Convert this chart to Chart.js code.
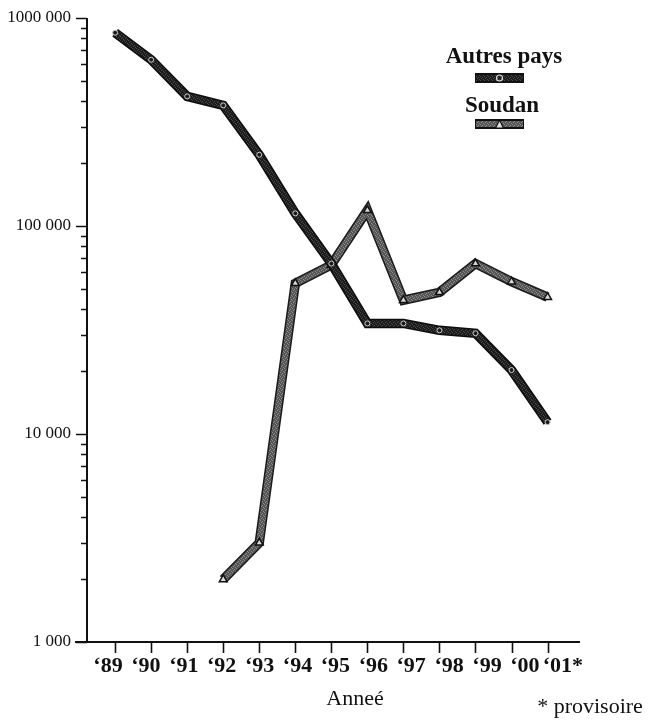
<!DOCTYPE html>
<html>
<head>
<meta charset="utf-8">
<script src="https://cdn.jsdelivr.net/npm/chart.js@4/dist/chart.umd.min.js"></script>
<style>
  html, body { margin: 0; padding: 0; background: #fff; }
  canvas { display: block; }
</style>
</head>
<body>
<canvas id="c" width="663" height="721"></canvas>
<script>
// Years on the horizontal axis (2001 is provisional)
const years = ['‘89', '‘90', '‘91', '‘92', '‘93', '‘94', '‘95', '‘96', '‘97', '‘98', '‘99', '‘00', '‘01*'];
// Counts per year, logarithmic vertical axis
const autresPays = [850000, 630000, 420000, 380000, 220000, 115000, 66000, 34000, 34000, 31500, 30500, 20300, 11400];
const soudan = [null, null, null, 2000, 3000, 53000, 65000, 119000, 44000, 48000, 66000, 54000, 45500];
// Labelled decades on the vertical axis
const yTickLabels = { 1000: '1 000', 10000: '10 000', 100000: '100 000', 1000000: '1000 000' };
const seriesNames = ['Autres pays', 'Soudan'];
const axisTitle = 'Anneé';
const footnote = '* provisoire';

const SERIF = '"Liberation Serif", "Times New Roman", serif';

// Stippled fill used for the thick ribbon-like lines
function stipple(base, dot) {
  const c = document.createElement('canvas');
  c.width = 4; c.height = 4;
  const g = c.getContext('2d');
  g.fillStyle = base; g.fillRect(0, 0, 4, 4);
  g.fillStyle = dot;
  [[0, 0], [2, 1], [1, 2], [3, 3]].forEach(([px, py]) => g.fillRect(px, py, 1, 1));
  return g.createPattern(c, 'repeat');
}
const darkFill = stipple('#1c1c1c', '#4a4a4a');
const greyFill = stipple('#555555', '#8e8e8e');

function points(values) {
  return values.map((v, i) => ({ x: i, y: v })).filter(p => p.y !== null);
}

const common = {
  xAxisID: 'xd', showLine: true, tension: 0,
  borderJoinStyle: 'miter', borderCapStyle: 'butt', fill: false
};

// Frame, ticks, legend and notes drawn on top of the chart
const frame = {
  id: 'frame',
  afterDraw(chart) {
    const { ctx, scales: { xd, y }, chartArea: a } = chart;
    ctx.save();
    ctx.strokeStyle = '#111';
    ctx.lineCap = 'butt';

    ctx.lineWidth = 2;
    ctx.beginPath();
    ctx.moveTo(a.left, a.top);
    ctx.lineTo(a.left, a.bottom + 1);
    ctx.moveTo(a.left - 12, a.bottom);
    ctx.lineTo(a.right, a.bottom);
    ctx.stroke();

    ctx.lineWidth = 1.6;
    ctx.beginPath();
    y.ticks.forEach(t => {
      const py = Math.round(y.getPixelForValue(t.value)) + 0.5;
      const major = yTickLabels[t.value] !== undefined;
      ctx.moveTo(a.left - (major ? 11 : 6), py);
      ctx.lineTo(a.left, py);
    });
    years.forEach((_, i) => {
      const px = Math.round(xd.getPixelForValue(i)) + 0.5;
      ctx.moveTo(px, a.bottom);
      ctx.lineTo(px, a.bottom + 11);
    });
    ctx.stroke();

    // legend
    ctx.fillStyle = '#111';
    ctx.textAlign = 'center';
    ctx.textBaseline = 'alphabetic';
    ctx.font = 'bold 23px ' + SERIF;
    ctx.fillText(seriesNames[0], 504, 63);
    ctx.fillText(seriesNames[1], 502, 112);

    function swatch(top, fill, marker) {
      ctx.fillStyle = '#111';
      ctx.fillRect(475, top, 49, 10);
      ctx.fillStyle = fill;
      ctx.fillRect(476, top + 2, 47, 6);
      const cx = 499.5, cy = top + 5;
      ctx.lineWidth = 1.2;
      ctx.beginPath();
      if (marker === 'triangle') {
        ctx.moveTo(cx, cy - 4); ctx.lineTo(cx + 4, cy + 4); ctx.lineTo(cx - 4, cy + 4); ctx.closePath();
        ctx.fillStyle = '#ddd'; ctx.fill();
        ctx.strokeStyle = '#111'; ctx.stroke();
      } else {
        ctx.arc(cx, cy, 3, 0, Math.PI * 2);
        ctx.strokeStyle = '#ddd'; ctx.stroke();
      }
    }
    swatch(73, darkFill, 'circle');
    swatch(119, greyFill, 'triangle');

    // axis title and footnote
    ctx.fillStyle = '#111';
    ctx.font = '22px ' + SERIF;
    ctx.fillText(axisTitle, 355, 705);
    ctx.fillText(footnote, 590, 713);
    ctx.restore();
  }
};

new Chart(document.getElementById('c'), {
  type: 'scatter',
  data: {
    datasets: [
      Object.assign({}, common, {
        label: seriesNames[0], data: points(autresPays), order: 0,
        borderColor: darkFill, borderWidth: 6.5,
        pointStyle: 'circle', pointRadius: 2.5, pointBackgroundColor: '#1c1c1c',
        pointBorderColor: '#cfcfcf', pointBorderWidth: 1
      }),
      Object.assign({}, common, {
        label: seriesNames[0] + ' ', data: points(autresPays), order: 1,
        borderColor: '#0c0c0c', borderWidth: 9.5, pointRadius: 0
      }),
      Object.assign({}, common, {
        label: seriesNames[1], data: points(soudan), order: 2,
        borderColor: greyFill, borderWidth: 6.5,
        pointStyle: 'triangle', pointRadius: 4.5, pointBackgroundColor: '#d8d8d8',
        pointBorderColor: '#111', pointBorderWidth: 1.5
      }),
      Object.assign({}, common, {
        label: seriesNames[1] + ' ', data: points(soudan), order: 3,
        borderColor: '#1a1a1a', borderWidth: 9.5, pointRadius: 0
      })
    ]
  },
  options: {
    responsive: false,
    animation: false,
    layout: { padding: { top: 18, right: 83, left: 0, bottom: 0 } },
    plugins: { legend: { display: false }, tooltip: { enabled: false } },
    scales: {
      // data positions of the years (tick marks)
      xd: {
        type: 'linear', position: 'bottom', display: false, min: -0.78, max: 12.9
      },
      // year labels, set slightly wider apart than the tick marks
      x: {
        type: 'linear', position: 'bottom', min: -0.554, max: 12.454,
        grid: { display: false, drawTicks: false }, border: { display: false },
        afterBuildTicks: s => { s.ticks = years.map((_, i) => ({ value: i })); },
        afterFit: s => { s.height = 79; s.paddingLeft = 0; s.paddingRight = 0; },
        ticks: {
          autoSkip: false, maxRotation: 0, minRotation: 0, padding: 11, color: '#111',
          font: { family: SERIF, size: 22, weight: 'bold' },
          callback: v => years[v]
        }
      },
      y: {
        type: 'logarithmic', min: 1000, max: 1000000,
        grid: { display: false, drawTicks: false }, border: { display: false },
        afterBuildTicks: s => {
          const t = [];
          for (let d = 1000; d < 1000000; d *= 10) {
            for (let k = 1; k < 10; k++) t.push({ value: d * k });
          }
          t.push({ value: 1000000 });
          s.ticks = t;
        },
        afterFit: s => { s.width = 87; s.paddingTop = 0; s.paddingBottom = 0; },
        ticks: {
          autoSkip: false, padding: 16, color: '#111',
          font: { family: SERIF, size: 17 },
          callback: v => yTickLabels[v] || ''
        }
      }
    }
  },
  plugins: [frame]
});
</script>
</body>
</html>
